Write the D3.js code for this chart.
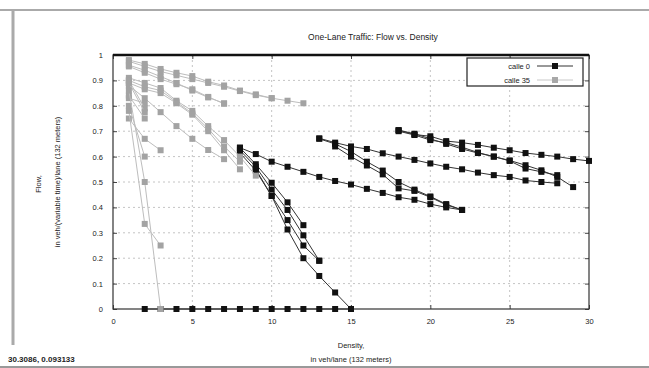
<!DOCTYPE html>
<html>
<head>
<meta charset="utf-8">
<script src="https://cdn.jsdelivr.net/npm/d3@7"></script>
<style>
  body { margin: 0; background: #fff; }
  text { font-family: "Liberation Sans", Arial, sans-serif; fill: #222; }
</style>
</head>
<body>
<svg id="chart" width="649" height="368"></svg>
<script>
// calle 0 runs (black): first density of each run, then flow values at consecutive densities
const calle0Start = [2, 8, 8, 8, 9, 8, 13, 13, 14, 18, 18, 18];
const calle0Flow = [
  [0, 0, 0, 0, 0, 0, 0, 0, 0, 0, 0, 0, 0, 0],
  [0.635, 0.57, 0.497, 0.42, 0.33],
  [0.625, 0.56, 0.47, 0.39, 0.29, 0.19],
  [0.615, 0.545, 0.445, 0.35, 0.25, 0.19],
  [0.55, 0.445, 0.313, 0.2, 0.13, 0.065, 0],
  [0.635, 0.61, 0.58, 0.56, 0.54, 0.52, 0.504, 0.49, 0.473, 0.457, 0.44, 0.43, 0.413, 0.4, 0.39],
  [0.672, 0.655, 0.64, 0.63, 0.613, 0.6, 0.587, 0.573, 0.56, 0.55, 0.537, 0.527, 0.52, 0.506, 0.5, 0.495],
  [0.67, 0.65, 0.62, 0.58, 0.545, 0.5, 0.47, 0.443, 0.413, 0.39],
  [0.64, 0.6, 0.565, 0.53, 0.475, 0.465, 0.44, 0.41, 0.39],
  [0.704, 0.687, 0.68, 0.661, 0.655, 0.646, 0.635, 0.625, 0.614, 0.607, 0.6, 0.59, 0.583],
  [0.704, 0.69, 0.67, 0.65, 0.63, 0.614, 0.6, 0.585, 0.566, 0.546, 0.52, 0.48],
  [0.70, 0.685, 0.665, 0.655, 0.637, 0.616, 0.6, 0.583, 0.553, 0.54, 0.527]
];

// calle 35 runs (grey)
const calle35Start = [1, 1, 1, 1, 1, 1, 1, 1, 1, 1, 1, 1, 1, 1, 1, 1];
const calle35Flow = [
  [0.98, 0.965, 0.945, 0.93, 0.917, 0.895, 0.88, 0.86, 0.845, 0.83, 0.82, 0.81],
  [0.975, 0.955, 0.935, 0.92, 0.905, 0.89, 0.875, 0.858, 0.842, 0.83],
  [0.96, 0.94, 0.915, 0.89, 0.86, 0.833, 0.81],
  [0.955, 0.93, 0.905, 0.885, 0.865, 0.835, 0.808],
  [0.91, 0.89, 0.87, 0.82, 0.78, 0.72, 0.665, 0.6, 0.525],
  [0.9, 0.875, 0.86, 0.815, 0.77, 0.71, 0.64, 0.58],
  [0.89, 0.865, 0.85, 0.81, 0.765, 0.7, 0.625, 0.55],
  [0.88, 0.83, 0.775, 0.72, 0.67, 0.626, 0.59],
  [0.83, 0.81],
  [0.9, 0.79],
  [0.89, 0.775],
  [0.84, 0.75],
  [0.75, 0.67, 0.625],
  [0.8, 0.6],
  [0.86, 0.5, 0],
  [0.78, 0.335, 0.25]
];

const xTicks = [0, 5, 10, 15, 20, 25, 30];
const yTicks = [0, 0.1, 0.2, 0.3, 0.4, 0.5, 0.6, 0.7, 0.8, 0.9, 1];
const legendLabels = ["calle 0", "calle 35"];

const svg = d3.select("#chart");
const plotLeft = 113, plotRight = 589, plotTop = 55, plotBottom = 309;

const x = d3.scaleLinear().domain([0, 30]).range([plotLeft, plotRight]);
const y = d3.scaleLinear().domain([0, 1]).range([plotBottom, plotTop]);

// window frame
svg.append("line").attr("x1", 0).attr("x2", 649).attr("y1", 10).attr("y2", 10)
  .attr("stroke", "#aaa").attr("stroke-width", 2);
svg.append("line").attr("x1", 13).attr("x2", 13).attr("y1", 10).attr("y2", 345)
  .attr("stroke", "#aaa").attr("stroke-width", 3);
svg.append("line").attr("x1", 0).attr("x2", 649).attr("y1", 367).attr("y2", 367)
  .attr("stroke", "#999").attr("stroke-width", 2);

// title
svg.append("text").attr("x", 373).attr("y", 40).attr("text-anchor", "middle")
  .style("font-size", "8.5px").text("One-Lane Traffic: Flow vs. Density");

// grid
const grid = svg.append("g").attr("stroke", "#c4c4c4").attr("stroke-dasharray", "2,3");
grid.selectAll(".gx").data(xTicks.slice(1, -1)).enter().append("line")
  .attr("x1", d => x(d)).attr("x2", d => x(d)).attr("y1", plotTop).attr("y2", plotBottom);
grid.selectAll(".gy").data(yTicks.slice(1, -1)).enter().append("line")
  .attr("x1", plotLeft).attr("x2", plotRight).attr("y1", d => y(d)).attr("y2", d => y(d));

// axes (ticks inside, labels outside)
svg.append("g").attr("transform", `translate(0,${plotBottom})`)
  .call(d3.axisBottom(x).tickValues(xTicks).tickSize(-4).tickPadding(10).tickFormat(d3.format("d")))
  .call(g => g.select(".domain").remove());
svg.append("g").attr("transform", `translate(0,${plotTop})`)
  .call(d3.axisTop(x).tickValues(xTicks).tickSize(-4).tickFormat(""))
  .call(g => g.select(".domain").remove());
svg.append("g").attr("transform", `translate(${plotLeft},0)`)
  .call(d3.axisLeft(y).tickValues(yTicks).tickSize(-4).tickPadding(10).tickFormat(d => d === 0 || d === 1 ? d : d3.format(".1f")(d)))
  .call(g => g.select(".domain").remove());
svg.append("g").attr("transform", `translate(${plotRight},0)`)
  .call(d3.axisRight(y).tickValues(yTicks).tickSize(-4).tickFormat(""))
  .call(g => g.select(".domain").remove());
svg.selectAll(".tick text").style("font-size", "7.5px").attr("fill", "#222");
svg.selectAll(".tick line").attr("stroke", "#444");

// plot border
svg.append("rect").attr("x", plotLeft).attr("y", plotTop).attr("width", plotRight - plotLeft).attr("height", plotBottom - plotTop)
  .attr("fill", "none").attr("stroke", "#333").attr("stroke-width", 1.2);
svg.append("line").attr("x1", plotLeft).attr("x2", plotRight).attr("y1", plotTop).attr("y2", plotTop)
  .attr("stroke", "#111").attr("stroke-width", 2.4);

// axis titles
svg.append("text").attr("transform", "translate(41,184) rotate(-90)").attr("text-anchor", "middle")
  .style("font-size", "7.5px").text("Flow,");
svg.append("text").attr("transform", "translate(60,182) rotate(-90)").attr("text-anchor", "middle")
  .style("font-size", "7.5px").text("in veh/(variable time)/lane (132 meters)");
svg.append("text").attr("x", 351).attr("y", 348).attr("text-anchor", "middle")
  .style("font-size", "7.5px").text("Density,");
svg.append("text").attr("x", 351).attr("y", 362).attr("text-anchor", "middle")
  .style("font-size", "7.5px").text("in veh/lane (132 meters)");

// status text
svg.append("text").attr("x", 8).attr("y", 362).style("font-size", "8px").style("font-weight", "bold")
  .text("30.3086, 0.093133");

function toPoints(start, flow) {
  return flow.map((f, i) => [start + i, f]);
}

const line = d3.line().x(d => x(d[0])).y(d => y(d[1]));

function drawRuns(starts, flows, lineColor, markColor, size) {
  const g = svg.append("g");
  flows.forEach((flow, i) => {
    const pts = toPoints(starts[i], flow);
    g.append("path").datum(pts).attr("d", line)
      .attr("fill", "none").attr("stroke", lineColor).attr("stroke-width", 1);
    g.selectAll(null).data(pts).enter().append("rect")
      .attr("x", d => x(d[0]) - size / 2).attr("y", d => y(d[1]) - size / 2)
      .attr("width", size).attr("height", size).attr("fill", markColor);
  });
}

drawRuns(calle0Start, calle0Flow, "#333", "#111", 6);
drawRuns(calle35Start, calle35Flow, "#bdbdbd", "#a3a3a3", 6);

// legend
const lg = svg.append("g");
lg.append("rect").attr("x", 467).attr("y", 58).attr("width", 116).attr("height", 28)
  .attr("fill", "#fff").attr("stroke", "#222").attr("stroke-width", 1.2);
const legendColors = [["#333", "#111"], ["#c8c8c8", "#a8a8a8"]];
legendLabels.forEach((lab, i) => {
  const ly = 66 + i * 14;
  lg.append("text").attr("x", 530).attr("y", ly + 3).attr("text-anchor", "end")
    .style("font-size", "7.5px").text(lab);
  lg.append("line").attr("x1", 537).attr("x2", 573).attr("y1", ly).attr("y2", ly)
    .attr("stroke", legendColors[i][0]).attr("stroke-width", 1);
  lg.append("rect").attr("x", 552).attr("y", ly - 3).attr("width", 6).attr("height", 6)
    .attr("fill", legendColors[i][1]);
});
</script>
</body>
</html>
